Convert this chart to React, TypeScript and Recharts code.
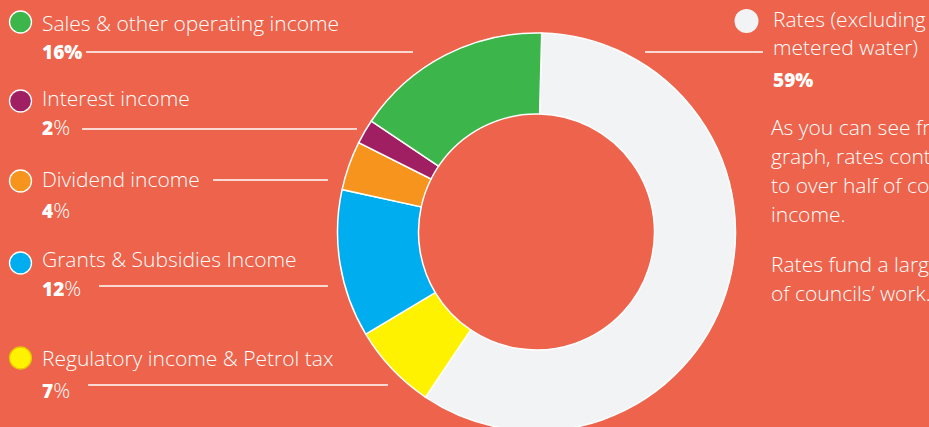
import React from 'react';
import { PieChart, Pie, Cell } from 'recharts';

const categories = [
  'Rates (excluding metered water)',
  'Regulatory income & Petrol tax',
  'Grants & Subsidies Income',
  'Dividend income',
  'Interest income',
  'Sales & other operating income',
];
const shares = [59, 7, 12, 4, 2, 16];
const colors = ['#F2F3F5', '#FFF200', '#00AEEF', '#F7941E', '#A01F62', '#3CB54B'];
const note = [
  ['As you can see from this', 'graph, rates contribute', 'to over half of councils’', 'income.'],
  ['Rates fund a large part', 'of councils’ work.'],
];

const W = 929;
const H = 427;
const BG = '#ED634B';
const FONT = '"Open Sans", sans-serif';

const pieData = categories.map((name, i) => ({ name, value: shares[i] }));

// legend placement on the left (index into categories)
const leftLabels = [
  { idx: 5, dotY: 22, nameY: 31, pctY: 59, line: [86, 413, 52], allBold: true },
  { idx: 4, dotY: 101, nameY: 106, pctY: 135, line: [82, 357, 129] },
  { idx: 3, dotY: 181, nameY: 187, pctY: 218, line: [213, 328, 180] },
  { idx: 2, dotY: 263, nameY: 267, pctY: 296, line: [99, 328, 286] },
  { idx: 1, dotY: 358, nameY: 366, pctY: 398, line: [88, 388, 385] },
];

function Overlay() {
  const rates = categories[0];
  const cut = rates.indexOf('metered');
  return (
    <svg width={W} height={H} style={{ position: 'absolute', left: 0, top: 0, pointerEvents: 'none' }}>
      <g fontFamily={FONT} fill="#fff">
        {leftLabels.map((l) => (
          <g key={l.idx}>
            <circle cx={20.5} cy={l.dotY} r={11} fill={colors[l.idx]} stroke={l.idx === 1 ? '#E8C400' : '#fff'} strokeWidth={1.3} />
            <text x={42} y={l.nameY} fontSize={21} fontWeight={300}>{categories[l.idx]}</text>
            <text x={42} y={l.pctY}>
              <tspan fontSize={19} fontWeight={800}>{shares[l.idx]}</tspan>
              <tspan fontSize={l.allBold ? 19 : 21} fontWeight={l.allBold ? 800 : 300}>%</tspan>
            </text>
            <line x1={l.line[0]} x2={l.line[1]} y1={l.line[2]} y2={l.line[2]} stroke="#fff" strokeWidth={1.3} />
          </g>
        ))}
        <circle cx={746.5} cy={21} r={12} fill={colors[0]} />
        <text x={773} y={27} fontSize={21} fontWeight={300}>{rates.slice(0, cut).trim()}</text>
        <text x={773} y={55} fontSize={21} fontWeight={300}>{rates.slice(cut)}</text>
        <text x={773} y={87} fontSize={19} fontWeight={800}>{shares[0]}%</text>
        <line x1={645} x2={763} y1={52} y2={52} stroke="#fff" strokeWidth={1.3} />
        {note[0].map((t, i) => (
          <text key={t} x={771} y={135 + i * 28.9} fontSize={21} fontWeight={300}>{t}</text>
        ))}
        {note[1].map((t, i) => (
          <text key={t} x={771} y={272 + i * 28.9} fontSize={21} fontWeight={300}>{t}</text>
        ))}
      </g>
    </svg>
  );
}

export default function App() {
  return (
    <div style={{ position: 'fixed', left: 0, top: 0, width: W, height: H, background: BG, overflow: 'hidden' }}>
      <PieChart width={W} height={H} margin={{ top: 0, right: 0, bottom: 0, left: 0 }}>
        <Pie
          data={pieData}
          dataKey="value"
          nameKey="name"
          cx={536.5}
          cy={232}
          innerRadius={118}
          outerRadius={199}
          startAngle={88.5}
          endAngle={-271.5}
          stroke="#fff"
          strokeWidth={1.5}
          isAnimationActive={false}
        >
          {pieData.map((d, i) => (
            <Cell key={d.name} fill={colors[i]} />
          ))}
        </Pie>
      </PieChart>
      <Overlay />
    </div>
  );
}
